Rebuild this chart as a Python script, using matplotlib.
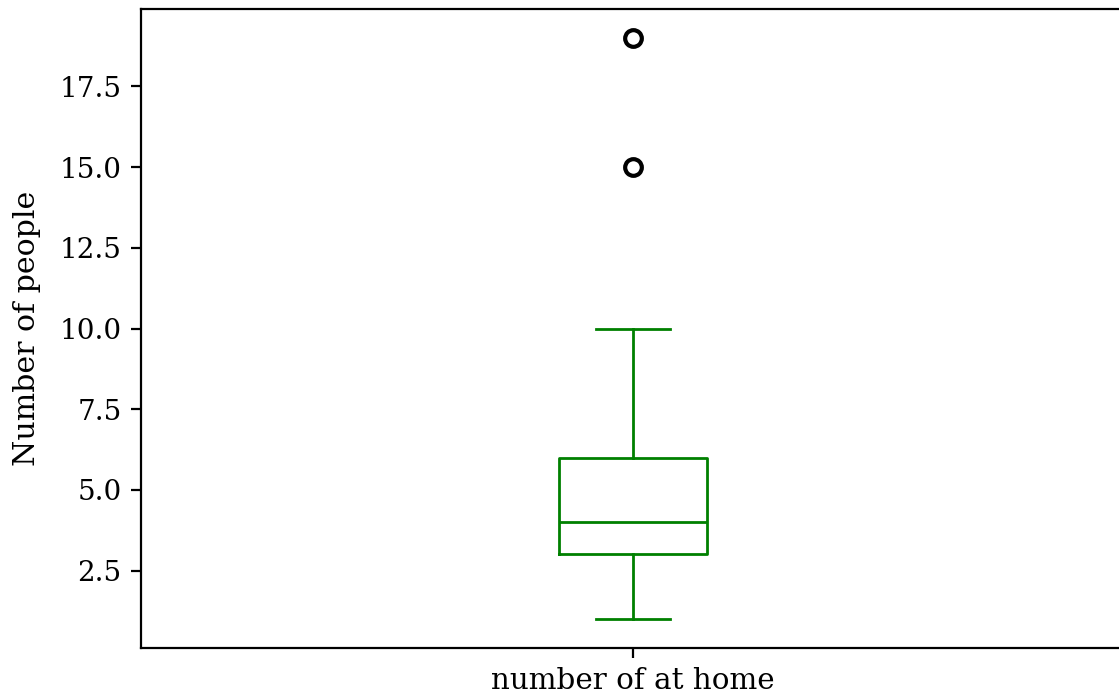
import matplotlib
matplotlib.use('Agg')
import matplotlib.pyplot as plt

plt.rcParams['font.family'] = 'DejaVu Serif'
plt.rcParams['font.size'] = 10

# summary of the "at home" counts
labels = ['number of at home']
whisker_low = [1]
q1 = [3]
medians = [4]
q3 = [6]
whisker_high = [10]
outliers = [[15, 19]]

stats = []
for i in range(len(labels)):
    stats.append({
        'label': labels[i],
        'whislo': whisker_low[i],
        'q1': q1[i],
        'med': medians[i],
        'q3': q3[i],
        'whishi': whisker_high[i],
        'fliers': outliers[i],
    })

fig = plt.figure(figsize=(1119 / 200, 697 / 200), dpi=200)
ax = fig.add_axes([141 / 1119, 49 / 697, 984 / 1119, 639 / 697])

green = dict(color='green', linewidth=1.0)
ax.bxp(stats, widths=0.15,
       boxprops=green, whiskerprops=green, capprops=green, medianprops=green,
       flierprops=dict(marker='o', markersize=6, markerfacecolor='none',
                       markeredgecolor='black', markeredgewidth=1.5))

ax.set_ylabel('Number of people', fontsize=10.8, labelpad=6.5)
ax.tick_params(axis='x', labelsize=10.6)
ax.set_xlim(0.5, 1.5)
ax.margins(y=0.05)

fig.savefig('out.png', dpi=200)
